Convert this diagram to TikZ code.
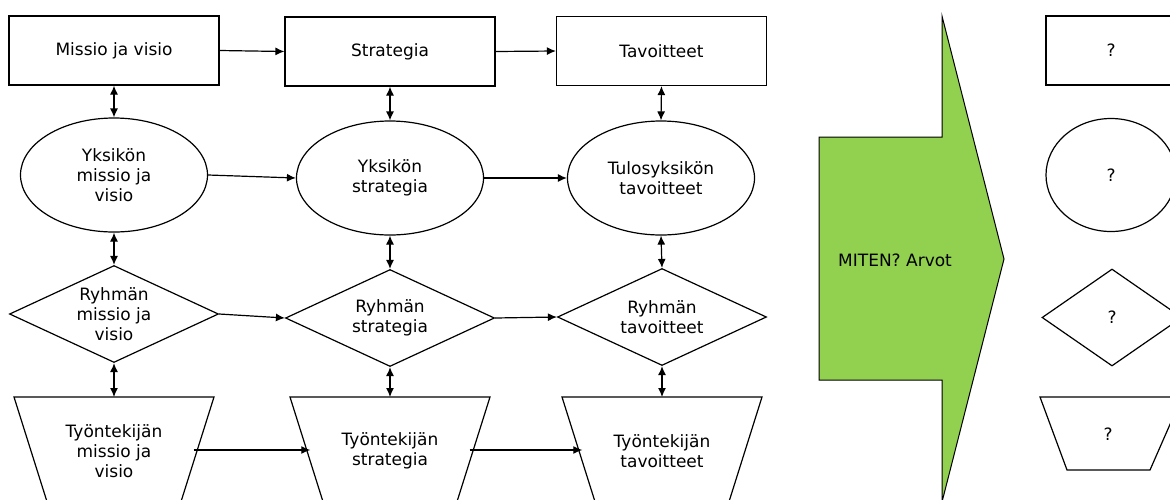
\documentclass[tikz,border=0pt]{standalone}
\usepackage{fontspec}
\setmainfont{DejaVu Sans}
\usetikzlibrary{shapes.geometric,arrows.meta}
\definecolor{arrowgreen}{RGB}{146,208,80}
\begin{document}
\begin{tikzpicture}[x=1pt,y=-1pt,
  every node/.style={font=\fontsize{17}{20}\selectfont, align=center, inner sep=0pt},
  shp/.style={draw, line width=1.2pt},
  rbox/.style={shp, rectangle, minimum width=210pt, minimum height=69pt},
  ebox/.style={shp, ellipse, minimum width=187pt, minimum height=114pt},
  dbox/.style={shp, diamond, minimum width=209pt, minimum height=97pt},
  conn/.style={line width=1.2pt, -{Latex[length=9pt,width=8pt]}},
  dconn/.style={line width=1.2pt, {Latex[length=9pt,width=8pt]}-{Latex[length=9pt,width=8pt]}},
  qmark/.style={font=\fontsize{17}{20}\selectfont}
]
\useasboundingbox (0,0) rectangle (1170,499);
\clip (0,0) rectangle (1170,499);

% row 1
\node[rbox] (r1) at (114,50.5) {Missio ja visio};
\node[rbox] (r2) at (390,51.5) {Strategia};
\node[rbox] (r3) at (661.5,51) {Tavoitteet};

% row 2
\node[ebox] (e1) at (114,175) {Yksikön\\missio ja\\visio};
\node[ebox] (e2) at (390,178) {Yksikön\\strategia};
\node[ebox] (e3) at (661,178) {Tulosyksikön\\tavoitteet};

% row 3
\node[dbox] (d1) at (114,314) {};
\node[dbox] (d2) at (390,318) {};
\node[dbox] (d3) at (662,317) {};
\node (d1t) at (d1.center) {Ryhmän\\missio ja\\visio};
\node (d2t) at (d2.center) {Ryhmän\\strategia};
\node (d3t) at (d3.center) {Ryhmän\\tavoitteet};

% row 4 trapezoids
\draw[shp] (14,397) -- (214,397) -- (179,508) -- (49,508) -- cycle;
\draw[shp] (290,397) -- (490,397) -- (455,508) -- (325,508) -- cycle;
\draw[shp] (562,397) -- (762,397) -- (727,508) -- (597,508) -- cycle;
\node (t1) at (114,451) {Työntekijän\\missio ja\\visio};
\node (t2) at (390,451) {Työntekijän\\strategia};
\node (t3) at (662,451) {Työntekijän\\tavoitteet};
\coordinate (t1n) at (114,397);
\coordinate (t2n) at (390,397);
\coordinate (t3n) at (662,397);
\coordinate (t1e) at (193.7,450);
\coordinate (t2w) at (310.3,450);
\coordinate (t2e) at (469.7,450);
\coordinate (t3w) at (582.3,450);

% horizontal arrows
\draw[conn] (r1.east) -- (r2.west);
\draw[conn] (r2.east) -- (r3.west);
\draw[conn] (e1.east) -- (e2.west);
\draw[conn] (e2.east) -- (e3.west);
\draw[conn] (d1.east) -- (d2.west);
\draw[conn] (d2.east) -- (d3.west);
\draw[conn] (t1e) -- (t2w);
\draw[conn] (t2e) -- (t3w);

% vertical double arrows
\draw[dconn] (r1.south) -- (e1.north);
\draw[dconn] (e1.south) -- (d1.north);
\draw[dconn] (d1.south) -- (t1n);
\draw[dconn] (r2.south) -- (e2.north);
\draw[dconn] (e2.south) -- (d2.north);
\draw[dconn] (d2.south) -- (t2n);
\draw[dconn] (r3.south) -- (e3.north);
\draw[dconn] (e3.south) -- (d3.north);
\draw[dconn] (d3.south) -- (t3n);

% green arrow
\draw[line width=1pt, fill=arrowgreen] (819,137) -- (942,137) -- (942,16) -- (1004,259) -- (942,502) -- (942,380) -- (819,380) -- cycle;
\node[anchor=west] (miten) at (838,260) {MITEN? Arvot};

% right column
\node[shp, rectangle, minimum width=130pt, minimum height=69pt, qmark] (q1) at (1111,50.5) {?};
\node[shp, ellipse, minimum width=130pt, minimum height=113pt, qmark] (q2) at (1111,175) {?};
\node[shp, diamond, minimum width=140pt, minimum height=97pt, qmark] (q3) at (1112,317.5) {?};
\draw[shp] (1040,397) -- (1182,397) -- (1150,470) -- (1067,470) -- cycle;
\node[qmark] (q4) at (1108,434) {?};
\end{tikzpicture}
\end{document}
